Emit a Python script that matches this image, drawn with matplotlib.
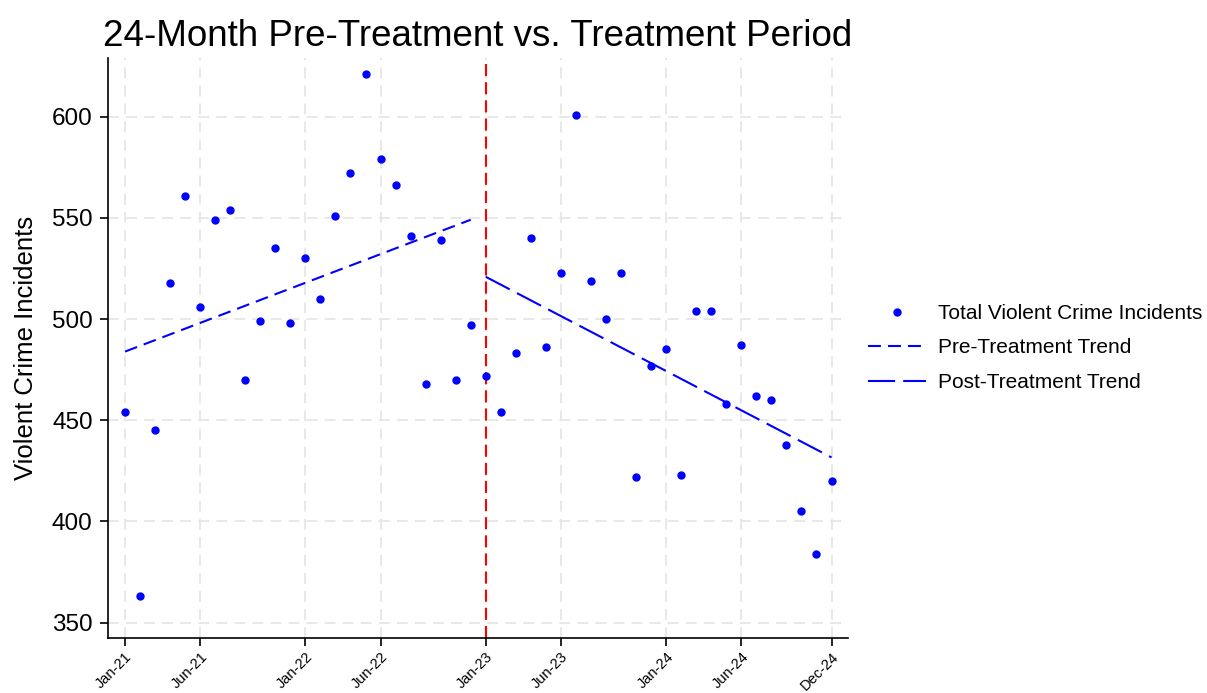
import numpy as np
import matplotlib
matplotlib.use("Agg")
import matplotlib.pyplot as plt
import matplotlib.transforms as mtransforms

plt.rcParams['font.family'] = ['Liberation Sans', 'DejaVu Sans']

months = ["Jan-21", "Feb-21", "Mar-21", "Apr-21", "May-21", "Jun-21", "Jul-21", "Aug-21", "Sep-21", "Oct-21", "Nov-21", "Dec-21",
          "Jan-22", "Feb-22", "Mar-22", "Apr-22", "May-22", "Jun-22", "Jul-22", "Aug-22", "Sep-22", "Oct-22", "Nov-22", "Dec-22",
          "Jan-23", "Feb-23", "Mar-23", "Apr-23", "May-23", "Jun-23", "Jul-23", "Aug-23", "Sep-23", "Oct-23", "Nov-23", "Dec-23",
          "Jan-24", "Feb-24", "Mar-24", "Apr-24", "May-24", "Jun-24", "Jul-24", "Aug-24", "Sep-24", "Oct-24", "Nov-24", "Dec-24"]
incidents = [454, 363, 445, 518, 561, 506, 549, 554, 470, 499, 535, 498,
             530, 510, 551, 572, 621, 579, 566, 541, 468, 539, 470, 497,
             472, 454, 483, 540, 486, 523, 601, 519, 500, 523, 422, 477,
             485, 423, 504, 504, 458, 487, 462, 460, 438, 405, 384, 420]
tick_labels = ["Jan-21", "Jun-21", "Jan-22", "Jun-22", "Jan-23", "Jun-23", "Jan-24", "Jun-24", "Dec-24"]
treatment_start = "Jan-23"

x = np.arange(len(months))
y = np.array(incidents, dtype=float)
t0 = months.index(treatment_start)

fig = plt.figure(figsize=(12.07, 6.93), dpi=100)
ax = fig.add_axes([0.0895, 0.0794, 0.6131, 0.8369])

ax.grid(True, color='#e6e6e6', linestyle=(0, (6, 4)), linewidth=1.3, zorder=0)
ax.set_axisbelow(True)

ax.plot(x, y, linestyle='none', marker='o', markersize=5, color='blue',
        label='Total Violent Crime Incidents', zorder=3)

xp = x[:t0]
pp = np.polyfit(xp, y[:t0], 1)
l1, = ax.plot(xp, np.polyval(pp, xp), color='blue', linewidth=1.5,
              label='Pre-Treatment Trend', zorder=2)
l1.set_dashes((6.2, 3.4))

xq = x[t0:]
pq = np.polyfit(xq, y[t0:], 1)
l2, = ax.plot(xq, np.polyval(pq, xq), color='blue', linewidth=1.5,
              label='Post-Treatment Trend', zorder=2)
l2.set_dashes((13, 3.9))

vl = ax.axvline(t0, color='red', linewidth=1.5, zorder=2)
vl.set_dashes((5.8, 2.9))

ax.set_xlim(-1.13, 48.1)
ax.set_ylim(342.4, 629)
ax.set_yticks([350, 400, 450, 500, 550, 600])
ax.set_xticks([months.index(m) for m in tick_labels])
ax.set_xticklabels(tick_labels, rotation=45, ha='right', rotation_mode='anchor', fontsize=10.5)
offset = mtransforms.ScaledTranslation(0.02, 0, fig.dpi_scale_trans)
for lab in ax.get_xticklabels():
    lab.set_transform(lab.get_transform() + offset)
ax.tick_params(axis='y', labelsize=17.5, length=6, width=1.2, pad=5)
ax.tick_params(axis='x', length=6, width=1.2, pad=2.5)

for s in ['top', 'right']:
    ax.spines[s].set_visible(False)
for s in ['left', 'bottom']:
    ax.spines[s].set_linewidth(1.2)

ax.set_ylabel('Violent Crime Incidents', fontsize=18.5, labelpad=10)
ax.set_title('24-Month Pre-Treatment vs. Treatment Period', fontsize=26.5, loc='left', x=-0.007, pad=9)

ax.legend(loc='center left', bbox_to_anchor=(1.016, 0.5), borderaxespad=0, frameon=False, fontsize=15,
          handlelength=2.75, handletextpad=0.6, labelspacing=0.75)

fig.savefig('out.png', dpi=100)
